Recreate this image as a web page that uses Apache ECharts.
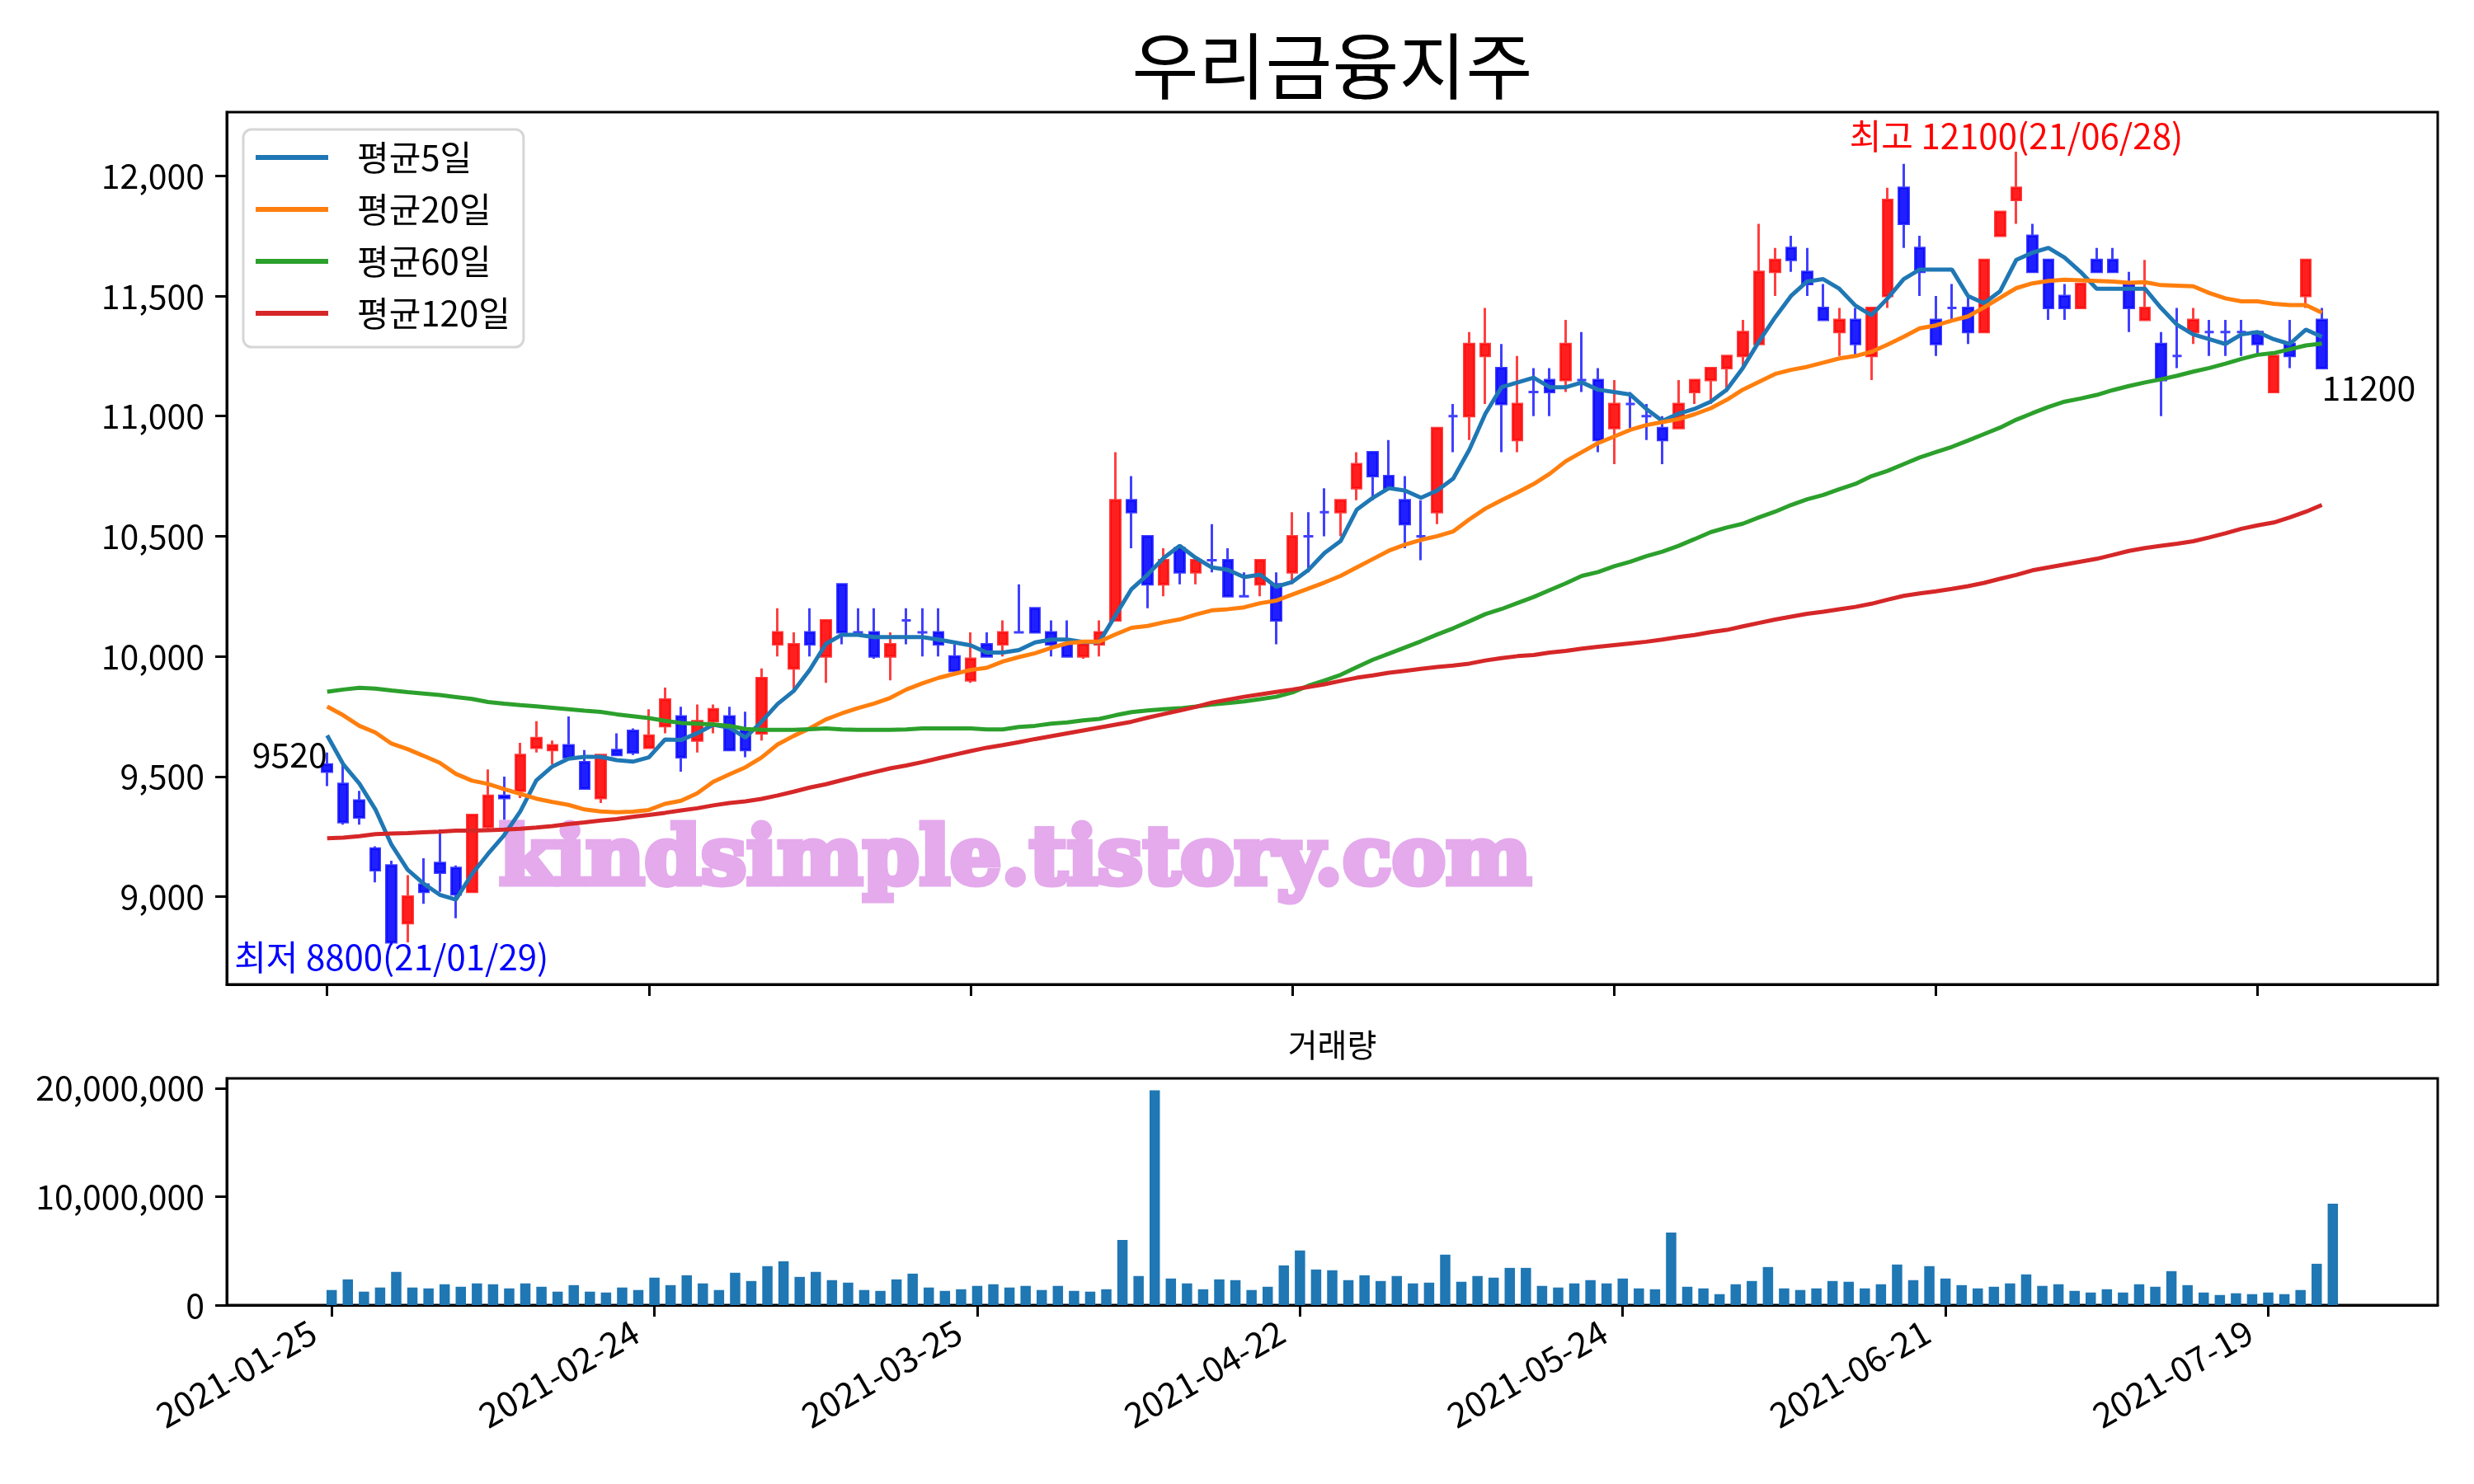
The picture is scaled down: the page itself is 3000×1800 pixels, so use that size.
<!DOCTYPE html>
<html><head><meta charset="utf-8">
<script src="https://cdn.jsdelivr.net/npm/echarts@6/dist/echarts.min.js"></script>
<style>html,body{margin:0;padding:0;background:#fff}#c{width:3000px;height:1800px}</style>
</head><body><div id="c"></div>
<script>
// ---------- data ----------
const chartTitle = '우리금융지주';
const volumeTitle = '거래량';
const tickIdx = [0, 20, 40, 60, 80, 100, 120];
const tickDates = ['2021-01-25', '2021-02-24', '2021-03-25', '2021-04-22', '2021-05-24', '2021-06-21', '2021-07-19'];
const priceTicks = [9000, 9500, 10000, 10500, 11000, 11500, 12000];
const volumeTicks = [0, 10000000, 20000000];
const seriesNames = ['평균5일', '평균20일', '평균60일', '평균120일'];

const opens = [9550,9470,9400,9200,9130,8890,9050,9140,9120,9020,9290,9420,9440,9620,9610,9630,9560,9410,9610,9690,
9620,9710,9750,9650,9730,9750,9690,9680,10050,9950,10100,10000,10300,10100,10100,10000,10150,10100,10100,10000,
9900,10050,10050,10100,10200,10100,10050,10000,10050,10150,10650,10500,10300,10450,10350,10400,10400,10250,10300,10300,
10350,10500,10600,10600,10700,10850,10750,10650,10500,10600,11000,11000,11250,11200,10900,11100,11150,11150,11150,11150,
10950,11050,11000,10950,10950,11100,11150,11200,11250,11300,11600,11700,11600,11450,11350,11400,11250,11500,11950,11700,
11400,11450,11450,11350,11750,11900,11750,11650,11500,11450,11650,11650,11550,11400,11300,11250,11350,11350,11350,11350,
11350,11100,11300,11500,11400];
const highs = [9600,9550,9440,9210,9150,9090,9160,9280,9130,9340,9530,9500,9640,9730,9650,9750,9610,9590,9680,9700,
9780,9870,9790,9800,9800,9790,9770,9950,10200,10100,10200,10150,10300,10200,10200,10100,10200,10200,10200,10050,
10100,10100,10150,10300,10200,10150,10150,10050,10150,10850,10750,10500,10450,10450,10400,10550,10450,10350,10400,10350,
10600,10600,10700,10650,10850,10850,10900,10750,10650,10950,11050,11350,11450,11300,11250,11200,11200,11400,11350,11200,
11150,11100,11050,11000,11150,11150,11200,11250,11400,11800,11700,11750,11700,11550,11450,11450,11450,11950,12050,11750,
11500,11550,11500,11650,11850,12100,11800,11650,11550,11550,11700,11700,11600,11650,11350,11450,11450,11400,11400,11400,
11350,11250,11400,11650,11450];
const lows = [9460,9300,9300,9060,8800,8810,8970,9020,8910,9020,9270,9320,9410,9600,9550,9580,9450,9390,9590,9590,
9620,9680,9520,9600,9680,9610,9580,9650,10000,9850,10000,9890,10050,10100,9990,9900,10050,10000,10000,9940,
9890,10000,10000,10100,10100,10000,10000,9990,10000,10150,10450,10200,10250,10300,10300,10350,10250,10250,10250,10050,
10300,10350,10500,10500,10650,10650,10700,10450,10400,10550,10850,10900,11050,10850,10850,11000,11000,11100,11100,10850,
10800,10950,10900,10800,10950,11050,11050,11100,11200,11300,11500,11600,11500,11400,11250,11250,11150,11450,11700,11500,
11250,11400,11300,11350,11750,11800,11600,11400,11400,11450,11600,11600,11350,11400,11000,11200,11300,11250,11250,11250,
11250,11100,11200,11450,11200];
const closes = [9520,9310,9330,9110,8810,9000,9020,9100,9010,9340,9420,9410,9590,9660,9630,9580,9450,9590,9590,9600,
9670,9820,9580,9730,9780,9610,9610,9910,10100,10050,10050,10150,10100,10100,10000,10050,10150,10100,10050,9940,
9990,10000,10100,10100,10100,10050,10000,10050,10100,10650,10600,10300,10400,10350,10400,10400,10250,10250,10400,10150,
10500,10500,10600,10650,10800,10750,10700,10550,10500,10950,11000,11300,11300,11050,11050,11100,11100,11300,11150,10900,
11050,11050,11000,10900,11050,11150,11200,11250,11350,11600,11650,11650,11550,11400,11400,11300,11450,11900,11800,11600,
11300,11450,11350,11650,11850,11950,11600,11450,11450,11550,11600,11600,11450,11450,11150,11250,11400,11350,11350,11350,
11300,11250,11250,11650,11200];
const volumes = [1390000,2370000,1240000,1620000,3060000,1620000,1540000,1920000,1690000,2000000,1920000,1540000,2000000,1690000,1240000,1840000,1240000,1160000,1620000,1390000,
2530000,1840000,2750000,2000000,1390000,2980000,2220000,3590000,4040000,2600000,3060000,2300000,2070000,1390000,1310000,2370000,2900000,1620000,1310000,1460000,
1770000,1920000,1620000,1770000,1390000,1770000,1310000,1240000,1460000,6010000,2680000,19800000,2450000,2000000,1460000,2370000,2300000,1390000,1690000,3660000,
5030000,3280000,3210000,2300000,2750000,2220000,2680000,2000000,2070000,4650000,2150000,2680000,2530000,3430000,3430000,1770000,1620000,2000000,2300000,2000000,
2450000,1540000,1460000,6690000,1690000,1540000,1010000,1920000,2220000,3510000,1540000,1390000,1540000,2220000,2150000,1540000,1920000,3740000,2300000,3590000,
2450000,1840000,1540000,1690000,2000000,2830000,1770000,1920000,1310000,1160000,1460000,1160000,1920000,1690000,3130000,1840000,1160000,930000,1090000,1010000,
1160000,1010000,1390000,3810000,9340000];
// moving-average values before enough in-window closes exist
const ma5Head = [9671, 9551, 9471, 9363];
const ma20Head = [9791,9755,9711,9683,9637,9614,9586,9557,9511,9483,9469,9448,9428,9408,9394,9382,9363,9355,9351];
const ma60 = [9853,9862,9869,9866,9858,9851,9845,9839,9831,9823,9810,9803,9797,9792,9786,9780,9774,9769,9759,9751,
9743,9732,9723,9720,9717,9711,9698,9694,9694,9694,9697,9700,9696,9694,9694,9694,9696,9700,9700,9700,
9700,9696,9696,9706,9711,9720,9725,9734,9740,9755,9768,9775,9780,9784,9791,9800,9806,9813,9822,9832,
9850,9878,9900,9923,9955,9986,10011,10037,10063,10091,10117,10146,10176,10197,10222,10247,10276,10304,10335,10351,
10375,10394,10417,10436,10460,10488,10517,10536,10552,10578,10602,10630,10654,10672,10696,10718,10750,10772,10800,10828,
10850,10872,10898,10925,10952,10985,11012,11038,11060,11073,11088,11108,11125,11140,11153,11168,11185,11200,11218,11238,
11255,11262,11278,11294,11302];
const ma120 = [9243,9246,9252,9260,9263,9265,9268,9271,9275,9275,9277,9279,9283,9288,9294,9302,9309,9317,9323,9332,
9340,9349,9359,9368,9380,9390,9397,9407,9421,9437,9454,9468,9485,9502,9518,9534,9546,9560,9576,9591,
9606,9620,9631,9643,9656,9668,9680,9692,9704,9716,9728,9745,9760,9775,9790,9808,9820,9832,9842,9852,
9862,9873,9884,9898,9911,9921,9932,9940,9948,9956,9962,9970,9983,9993,10001,10006,10016,10023,10032,10040,
10047,10054,10061,10070,10080,10089,10101,10110,10125,10139,10153,10165,10177,10186,10196,10206,10219,10236,10252,10262,
10271,10281,10292,10306,10323,10339,10358,10370,10382,10394,10406,10422,10439,10451,10460,10469,10479,10495,10512,10531,
10545,10557,10578,10602,10630];
const annFirst = {idx: 0, price: 9520, text: '9520'};
const annLast = {idx: 124, price: 11200, text: '11200'};
const annHigh = {idx: 105, price: 12100, text: '최고 12100(21/06/28)'};
const annLow = {idx: 4, price: 8800, text: '최저 8800(21/01/29)'};
const watermark = 'kindsimple.tistory.com';

// ---------- derived ----------
function movingAvg(src, n, head) {
  return src.map((_, i) => i < head.length ? head[i]
    : src.slice(i - n + 1, i + 1).reduce((a, b) => a + b, 0) / n);
}
const ma5 = movingAvg(closes, 5, ma5Head);
const ma20 = movingAvg(closes, 20, ma20Head);
const candleData = opens.map((o, i) => [i, o, closes[i], lows[i], highs[i]]);
const pairs = arr => arr.map((v, i) => [i, v]);

const FONT = '"Noto Sans CJK KR", "Noto Sans", sans-serif';
const fmt = v => Math.round(v).toLocaleString('en-US');

const chart = echarts.init(document.getElementById('c'), null, {width: 3000, height: 1800});

const axisCommon = {
  axisLine: {show: true, onZero: false, lineStyle: {color: '#000', width: 3}},
  splitLine: {show: false}
};

const option = {
  animation: false,
  backgroundColor: '#fff',
  textStyle: {fontFamily: FONT},
  grid: [
    {left: 275, top: 136, width: 2681, height: 1058, show: true, borderColor: '#000', borderWidth: 3},
    {left: 275, top: 1308, width: 2681, height: 275, show: true, borderColor: '#000', borderWidth: 3}
  ],
  xAxis: [
    Object.assign({}, axisCommon, {
      type: 'value', gridIndex: 0, min: -6.24, max: 131.2,
      axisTick: {show: true, customValues: tickIdx, length: 14, lineStyle: {width: 3, color: '#000'}},
      axisLabel: {show: false, customValues: tickIdx}
    }),
    Object.assign({}, axisCommon, {
      type: 'value', gridIndex: 1, min: -6.5, max: 130.5,
      axisTick: {show: true, customValues: tickIdx, length: 14, lineStyle: {width: 3, color: '#000'}},
      axisLabel: {show: true, customValues: tickIdx, rotate: 30, margin: 16, fontSize: 42, color: '#000', fontFamily: FONT,
        padding: [0, 26, 0, 0],
        formatter: v => tickDates[tickIdx.indexOf(Math.round(v))] || ''}
    })
  ],
  yAxis: [
    Object.assign({}, axisCommon, {
      type: 'value', gridIndex: 0, min: 8635, max: 12265, scale: true,
      axisTick: {show: true, customValues: priceTicks, length: 14, lineStyle: {width: 3, color: '#000'}},
      axisLabel: {show: true, customValues: priceTicks, fontSize: 41, color: '#000', margin: 27, fontFamily: FONT, formatter: fmt}
    }),
    Object.assign({}, axisCommon, {
      type: 'value', gridIndex: 1, min: 0, max: 20900000,
      axisTick: {show: true, customValues: volumeTicks, length: 14, lineStyle: {width: 3, color: '#000'}},
      axisLabel: {show: true, customValues: volumeTicks, fontSize: 41, color: '#000', margin: 27, fontFamily: FONT, formatter: fmt}
    })
  ],
  legend: {
    data: seriesNames, orient: 'vertical', left: 295, top: 157,
    icon: 'rect', itemWidth: 88, itemHeight: 6, itemGap: 21,
    padding: [13, 16, 20, 15],
    backgroundColor: 'rgba(255,255,255,0.85)', borderColor: '#d6d6d6', borderWidth: 3, borderRadius: 10,
    textStyle: {fontSize: 42, color: '#000', fontFamily: FONT, padding: [0, 0, 0, 30]}
  },
  series: [
    {
      type: 'candlestick', xAxisIndex: 0, yAxisIndex: 0, data: candleData,
      encode: {x: 0, y: [1, 2, 3, 4]}, barWidth: 12,
      itemStyle: {
        color: 'rgba(255,0,0,0.88)', color0: 'rgba(0,0,255,0.88)',
        borderColor: 'rgba(255,0,0,0.75)', borderColor0: 'rgba(0,0,255,0.75)',
        borderColorDoji: 'rgba(0,0,255,0.75)', borderWidth: 3
      },
      z: 2
    },
    {name: seriesNames[0], type: 'line', xAxisIndex: 0, yAxisIndex: 0, data: pairs(ma5), showSymbol: false, symbol: 'none',
      lineStyle: {width: 5, color: '#1f77b4'}, itemStyle: {color: '#1f77b4'}, z: 3},
    {name: seriesNames[1], type: 'line', xAxisIndex: 0, yAxisIndex: 0, data: pairs(ma20), showSymbol: false, symbol: 'none',
      lineStyle: {width: 5, color: '#ff7f0e'}, itemStyle: {color: '#ff7f0e'}, z: 3},
    {name: seriesNames[2], type: 'line', xAxisIndex: 0, yAxisIndex: 0, data: pairs(ma60), showSymbol: false, symbol: 'none',
      lineStyle: {width: 5, color: '#2ca02c'}, itemStyle: {color: '#2ca02c'}, z: 3},
    {name: seriesNames[3], type: 'line', xAxisIndex: 0, yAxisIndex: 0, data: pairs(ma120), showSymbol: false, symbol: 'none',
      lineStyle: {width: 5, color: '#d62728'}, itemStyle: {color: '#d62728'}, z: 3},
    {type: 'bar', xAxisIndex: 1, yAxisIndex: 1, data: pairs(volumes), barWidth: 12.5,
      itemStyle: {color: '#1f77b4'}, z: 2}
  ]
};
chart.setOption(option);

const px = (x, y) => chart.convertToPixel({gridIndex: 0}, [x, y]);
const pFirst = px(annFirst.idx, annFirst.price);
const pLast = px(annLast.idx, annLast.price);
const pHigh = px(annHigh.idx, annHigh.price);
const pLow = px(annLow.idx, annLow.price);
const g0 = chart.getModel().getComponent('grid', 0).coordinateSystem.getRect();
const g1 = chart.getModel().getComponent('grid', 1).coordinateSystem.getRect();
const cx = g0.x + g0.width / 2;

const txt = (x, y, text, size, fill, align, valign, extra) => Object.assign({
  type: 'text', x: x, y: y, z: 10,
  style: {text: text, fontSize: size, fontFamily: FONT, fill: fill, align: align, verticalAlign: valign}
}, extra || {});

chart.setOption({
  graphic: [
    txt(cx, 80, chartTitle, 88, '#000', 'center', 'middle'),
    txt(cx, g1.y - 41, volumeTitle, 39, '#000', 'center', 'middle'),
    txt(pFirst[0], pFirst[1], annFirst.text, 41, '#000', 'right', 'bottom'),
    txt(pLast[0], pLast[1] + 4, annLast.text, 41, '#000', 'left', 'top'),
    txt(pHigh[0], pHigh[1] + 2, annHigh.text, 42, '#ff0000', 'center', 'bottom'),
    txt(pLow[0], pLow[1] - 6, annLow.text, 42, '#0000ff', 'center', 'top'),
    {type: 'text', x: 1231, y: 1047, z: 1,
      style: {text: watermark, font: 'bold 98px "DejaVu Serif"', fill: '#e4aaec', stroke: '#e4aaec', lineWidth: 7,
        align: 'center', verticalAlign: 'middle'}}
  ]
});
</script>
</body></html>
